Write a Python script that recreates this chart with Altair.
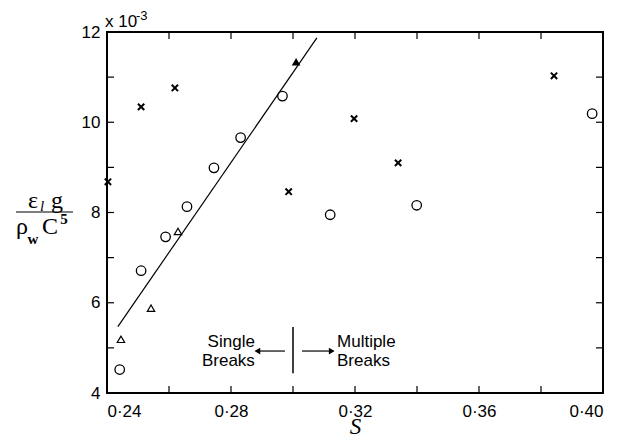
import altair as alt
import pandas as pd

# ---- data ----
cross_s = [0.2403, 0.2510, 0.2619, 0.2986, 0.3197, 0.3339, 0.3842]
cross_v = [8.68, 10.34, 10.76, 8.46, 10.08, 9.10, 11.03]
circ_s = [0.2441, 0.2510, 0.2589, 0.2658, 0.2745, 0.2831, 0.2966, 0.3120, 0.3399, 0.3965]
circ_v = [4.52, 6.71, 7.46, 8.13, 8.99, 9.66, 10.58, 7.95, 8.16, 10.19]
tri_s = [0.2445, 0.2542, 0.2629]
tri_v = [5.19, 5.88, 7.58]
trif_s = [0.3010]
trif_v = [11.34]
fit_s = [0.2435, 0.3077]
fit_v = [5.47, 11.87]

x_major = [0.24, 0.28, 0.32, 0.36, 0.40]
x_ticks = [0.24, 0.26, 0.28, 0.30, 0.32, 0.34, 0.36, 0.38, 0.40]
y_major = [4, 6, 8, 10, 12]
y_ticks = [4, 5, 6, 7, 8, 9, 10, 11, 12]

W, H = 496, 361
SANS = "Liberation Sans"
SERIF = "Liberation Serif"

xs = alt.Scale(domain=[0.24, 0.40], nice=False, zero=False)
ys = alt.Scale(domain=[4, 12], nice=False, zero=False)

x_axis = alt.Axis(
    values=x_major, title="S", titleFont=SERIF, titleFontStyle="italic",
    titleFontSize=23, titleFontWeight="normal", titleColor="black", titlePadding=-4,
    labelFont=SANS, labelFontSize=17, labelColor="black", labelPadding=10,
    labelExpr="replace(format(datum.value, '.2f'), '.', '·')",
    ticks=False, domain=False, grid=False)
y_axis = alt.Axis(
    values=y_major, title=None, format="d",
    labelFont=SANS, labelFontSize=17, labelColor="black", labelPadding=7,
    ticks=False, domain=False, grid=False)

X = lambda f: alt.X(f, type="quantitative", scale=xs, axis=x_axis)
Y = lambda f: alt.Y(f, type="quantitative", scale=ys, axis=y_axis)

# frame
frame = alt.Chart(pd.DataFrame({"a": [0]})).mark_rect(
    fill=None, stroke="black", strokeWidth=2).encode(
    x=alt.value(0), x2=alt.value(W), y=alt.value(0), y2=alt.value(H))

# inward ticks on all four sides
xt = pd.DataFrame({"t": x_ticks})
yt = pd.DataFrame({"t": y_ticks})
tick_style = dict(color="black", strokeWidth=1.2)
t_bottom = alt.Chart(xt).mark_rule(**tick_style).encode(x=X("t"), y=alt.value(H), y2=alt.value(H - 7))
t_top = alt.Chart(xt).mark_rule(**tick_style).encode(x=X("t"), y=alt.value(0), y2=alt.value(7))
t_left = alt.Chart(yt).mark_rule(**tick_style).encode(y=Y("t"), x=alt.value(0), x2=alt.value(7))
t_right = alt.Chart(yt).mark_rule(**tick_style).encode(y=Y("t"), x=alt.value(W), x2=alt.value(W - 7))

# fitted line
fit = alt.Chart(pd.DataFrame({"s": fit_s, "v": fit_v})).mark_line(
    color="black", strokeWidth=1.2).encode(x=X("s"), y=Y("v"))

crosses = alt.Chart(pd.DataFrame({"s": cross_s, "v": cross_v})).mark_point(
    shape="M-1,-1L1,1M-1,1L1,-1", size=40, strokeWidth=2, color="black", filled=False, opacity=1
).encode(x=X("s"), y=Y("v"))

circles = alt.Chart(pd.DataFrame({"s": circ_s, "v": circ_v})).mark_point(
    shape="circle", size=90, strokeWidth=1.3, color="black", filled=False, opacity=1
).encode(x=X("s"), y=Y("v"))

tris = alt.Chart(pd.DataFrame({"s": tri_s, "v": tri_v})).mark_point(
    shape="triangle-up", size=55, strokeWidth=1.2, color="black", filled=False, opacity=1
).encode(x=X("s"), y=Y("v"))

trisf = alt.Chart(pd.DataFrame({"s": trif_s, "v": trif_v})).mark_point(
    shape="triangle-up", size=75, color="black", filled=True, opacity=1
).encode(x=X("s"), y=Y("v"))

# annotation: Single Breaks | Multiple Breaks
left_txt = alt.Chart(pd.DataFrame({"s": [0.2877, 0.2877], "v": [5.12, 4.72], "t": ["Single", "Breaks"]})).mark_text(
    font=SANS, fontSize=17, align="right", baseline="middle", color="black").encode(x=X("s"), y=Y("v"), text="t:N")
right_txt = alt.Chart(pd.DataFrame({"s": [0.3142, 0.3142], "v": [5.12, 4.72], "t": ["Multiple", "Breaks"]})).mark_text(
    font=SANS, fontSize=17, align="left", baseline="middle", color="black").encode(x=X("s"), y=Y("v"), text="t:N")

divider = alt.Chart(pd.DataFrame({"s": [0.30], "v": [5.46], "v2": [4.44]})).mark_rule(
    color="black", strokeWidth=1.5).encode(x=X("s"), y=Y("v"), y2="v2:Q")

shafts = alt.Chart(pd.DataFrame({"s": [0.2974, 0.3029], "s2": [0.2890, 0.3120], "v": [4.93, 4.93]})).mark_rule(
    color="black", strokeWidth=1.2).encode(x=X("s"), x2="s2:Q", y=Y("v"))

heads = alt.Chart(pd.DataFrame({"s": [0.2885, 0.3125], "v": [4.93, 4.93],
                                "sh": ["triangle-left", "triangle-right"]})).mark_point(
    filled=True, color="black", size=45, opacity=1).encode(
    x=X("s"), y=Y("v"),
    shape=alt.Shape("sh:N", scale=alt.Scale(domain=["triangle-left", "triangle-right"],
                                           range=["triangle-left", "triangle-right"]), legend=None))

# exponent note above the y axis
exp_note = alt.Chart(pd.DataFrame({"t": ["x 10"]})).mark_text(
    font=SANS, fontSize=17, align="left", baseline="alphabetic", color="black"
).encode(x=alt.value(-2), y=alt.value(-5), text="t:N")
exp_sup = alt.Chart(pd.DataFrame({"t": ["-3"]})).mark_text(
    font=SANS, fontSize=13, align="left", baseline="alphabetic", color="black"
).encode(x=alt.value(29), y=alt.value(-12), text="t:N")

# y-axis title as a fraction: eps_l g / (rho_w C^5)
frac_big = alt.Chart(pd.DataFrame({
    "t": ["ε", "g", "ρ", "C"],
    "px": [-74, -50, -85, -57],
    "py": [176, 176, 202, 202]})).mark_text(
    font=SERIF, fontSize=24, align="center", baseline="alphabetic", color="black"
).encode(x=alt.X("px:Q", scale=None), y=alt.Y("py:Q", scale=None), text="t:N")
frac_l = alt.Chart(pd.DataFrame({"t": ["l"], "px": [-65], "py": [179]})).mark_text(
    font=SERIF, fontSize=15, align="center", baseline="alphabetic", color="black", fontStyle="italic"
).encode(x=alt.X("px:Q", scale=None), y=alt.Y("py:Q", scale=None), text="t:N")
frac_small = alt.Chart(pd.DataFrame({
    "t": ["w", "5"],
    "px": [-74, -43],
    "py": [212, 192]})).mark_text(
    font=SERIF, fontSize=15, align="center", baseline="alphabetic", color="black", fontWeight="bold"
).encode(x=alt.X("px:Q", scale=None), y=alt.Y("py:Q", scale=None), text="t:N")
frac_bar = alt.Chart(pd.DataFrame({"a": [0]})).mark_rule(color="black", strokeWidth=1.2).encode(
    x=alt.value(-91), x2=alt.value(-34), y=alt.value(180))

chart = alt.layer(
    frame, t_bottom, t_top, t_left, t_right, fit, crosses, circles, tris, trisf,
    left_txt, right_txt, divider, shafts, heads, exp_note, exp_sup,
    frac_big, frac_l, frac_small, frac_bar
).properties(
    width=W, height=H,
    autosize=alt.AutoSizeParams(type="none"),
    padding={"left": 99, "top": 24, "right": 20, "bottom": 46},
).configure_view(
    strokeWidth=0
).configure(background="white")

chart.save("out.html", embed_options={"renderer": "svg", "actions": False})
